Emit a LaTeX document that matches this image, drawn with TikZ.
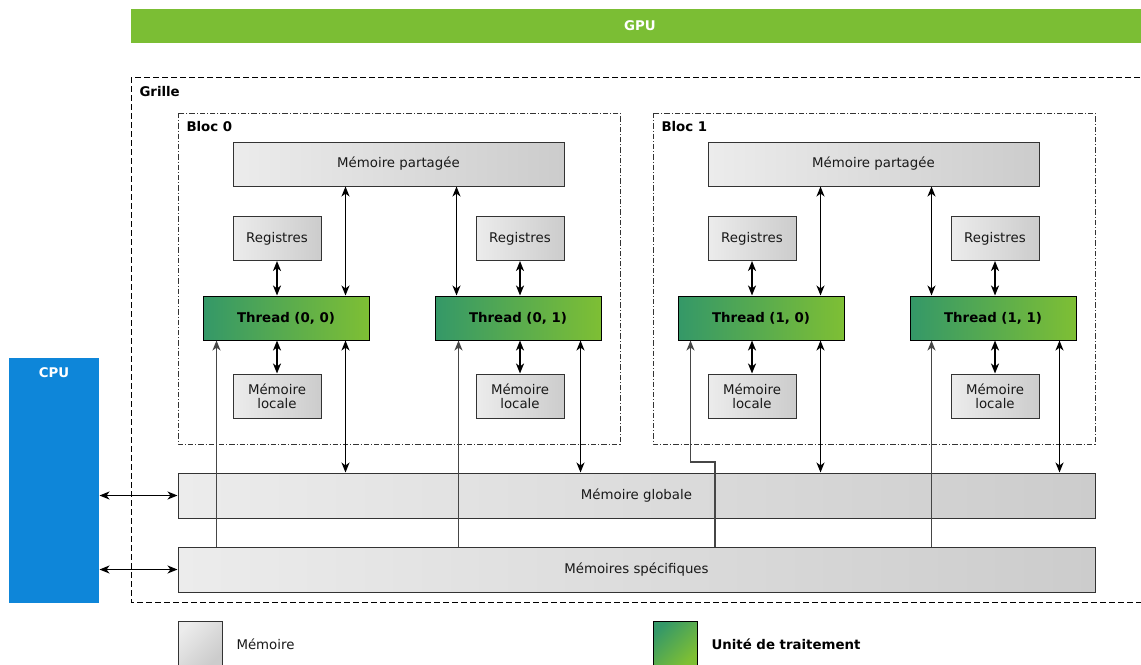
\documentclass[tikz,border=0pt]{standalone}
\usepackage{fontspec}
\setmainfont{DejaVu Sans}
\usetikzlibrary{arrows.meta}

\definecolor{gpugreen}{RGB}{123,190,52}
\definecolor{cpublue}{RGB}{14,134,217}
\definecolor{memlight}{RGB}{236,236,236}
\definecolor{memdark}{RGB}{204,204,204}
\definecolor{unitleft}{RGB}{52,152,104}
\definecolor{unitright}{RGB}{126,191,52}
\definecolor{edgegray}{RGB}{51,51,51}
\definecolor{feedgray}{RGB}{70,70,70}

\tikzset{every picture/.style={line width=0.75pt}}
\tikzset{
  txt/.style={font=\fontsize{10}{12}\selectfont, text=black!90},
  lbl/.style={font=\fontsize{10}{12}\selectfont\bfseries, inner sep=0.75pt},
  mem/.style={draw=edgegray, left color=memlight, right color=memdark, inner sep=0pt, minimum height=33pt, align=center, txt},
  unit/.style={draw=black, left color=unitleft, right color=unitright, inner sep=0pt, minimum width=124.5pt, minimum height=33pt, lbl},
  grid/.style={draw=black, dash pattern=on 4.5pt off 2.25pt},
  bloc/.style={draw=black!80, dash pattern=on 4pt off 1.5pt on 0.75pt off 1.5pt},
  tip/.tip={Stealth[length=7.5pt,width=6pt,inset=2.2pt]},
  link/.style={draw=black, line width=0.9pt, {tip}-{tip}},
  thick link/.style={link, line width=1.3pt},
  feed/.style={draw=feedgray, line width=0.9pt, -{tip}}
}

\begin{document}
\begin{tikzpicture}[x=0.75pt,y=0.75pt,yscale=-1,xscale=1]
\useasboundingbox (0,0) rectangle (1141,664);

%Shape: Rectangle GPU
\draw (640,26) node [fill=gpugreen, inner sep=0pt, minimum width=763.5pt, minimum height=25.5pt, text=white, lbl] (gpu) {GPU};
%Shape: Rectangle CPU
\draw (54,480.5) node [fill=cpublue, inner sep=0pt, minimum width=67.5pt, minimum height=183.75pt] (cpu) {};
% Text Node
\draw (54,373) node [text=white, lbl] (cputxt) {CPU};

%Shape: Rectangle Grille
\draw [grid] (131,77) rectangle (1150,602);
% Text Node
\draw (138,92) node [anchor=west, lbl] (grille) {Grille};

%Shape: Rectangle Bloc 0
\draw [bloc] (178,113) rectangle (620,444);
% Text Node
\draw (185,127) node [anchor=west, lbl] (bloc0) {Bloc 0};
%Shape: Rectangle Bloc 1
\draw [bloc] (653,113) rectangle (1095,444);
% Text Node
\draw (660,127) node [anchor=west, lbl] (bloc1) {Bloc 1};

% Bloc 0
\draw (398.5,164) node [mem, minimum width=248.25pt] (mp0) {Mémoire partagée};
\draw (277,238.5) node [mem, minimum width=66pt] (reg00) {Registres};
\draw (520,238.5) node [mem, minimum width=66pt] (reg01) {Registres};
\draw (286,318) node [unit] (t00) {Thread (0, 0)};
\draw (518,318) node [unit] (t01) {Thread (0, 1)};
\draw (277,396) node [mem, minimum width=66pt] (ml00) {Mémoire\\[-1.5pt]locale};
\draw (520,396) node [mem, minimum width=66pt] (ml01) {Mémoire\\[-1.5pt]locale};

% Bloc 1
\draw (873.5,164) node [mem, minimum width=248.25pt] (mp1) {Mémoire partagée};
\draw (752,238.5) node [mem, minimum width=66pt] (reg10) {Registres};
\draw (995,238.5) node [mem, minimum width=66pt] (reg11) {Registres};
\draw (761,318) node [unit] (t10) {Thread (1, 0)};
\draw (993,318) node [unit] (t11) {Thread (1, 1)};
\draw (752,396) node [mem, minimum width=66pt] (ml10) {Mémoire\\[-1.5pt]locale};
\draw (995,396) node [mem, minimum width=66pt] (ml11) {Mémoire\\[-1.5pt]locale};

% Memoires communes
\draw (636.5,495.5) node [mem, minimum width=687.75pt, minimum height=33.75pt] (mg) {Mémoire globale};
\draw (636.5,569.5) node [mem, minimum width=687.75pt, minimum height=33.75pt] (ms) {Mémoires spécifiques};

% Registres / memoire locale
\draw [thick link] (reg00.south) -- (reg00.south |- t00.north);
\draw [thick link] (ml00.north) -- (ml00.north |- t00.south);
\draw [thick link] (reg01.south) -- (reg01.south |- t01.north);
\draw [thick link] (ml01.north) -- (ml01.north |- t01.south);
\draw [thick link] (reg10.south) -- (reg10.south |- t10.north);
\draw [thick link] (ml10.north) -- (ml10.north |- t10.south);
\draw [thick link] (reg11.south) -- (reg11.south |- t11.north);
\draw [thick link] (ml11.north) -- (ml11.north |- t11.south);

% Memoire partagee
\draw [link] ([xshift=-18pt]t00.north east |- mp0.south) -- ([xshift=-18pt]t00.north east);
\draw [link] ([xshift=16.5pt]t01.north west |- mp0.south) -- ([xshift=16.5pt]t01.north west);
\draw [link] ([xshift=-18pt]t10.north east |- mp1.south) -- ([xshift=-18pt]t10.north east);
\draw [link] ([xshift=16.5pt]t11.north west |- mp1.south) -- ([xshift=16.5pt]t11.north west);

% Memoire globale
\draw [link] ([xshift=-18pt]t00.south east |- mg.north) -- ([xshift=-18pt]t00.south east);
\draw [link] ([xshift=-15.75pt]t01.south east |- mg.north) -- ([xshift=-15.75pt]t01.south east);
\draw [link] ([xshift=-18pt]t10.south east |- mg.north) -- ([xshift=-18pt]t10.south east);
\draw [link] ([xshift=-12.75pt]t11.south east |- mg.north) -- ([xshift=-12.75pt]t11.south east);

% Memoires specifiques
\coordinate (jog) at (715,462);
\draw [feed] ([xshift=10.5pt]t00.south west |- ms.north) -- ([xshift=10.5pt]t00.south west);
\draw [feed] ([xshift=18pt]t01.south west |- ms.north) -- ([xshift=18pt]t01.south west);
\draw [feed] (jog |- ms.north) -- (jog) -| ([xshift=9.75pt]t10.south west);
\draw [feed] ([xshift=16.5pt]t11.south west |- ms.north) -- ([xshift=16.5pt]t11.south west);

% CPU
\draw [link] (cpu.east |- mg.west) -- (mg.west);
\draw [link] (cpu.east |- ms.west) -- (ms.west);

% Legende
\draw (200,643) node [mem, minimum width=33pt, shading angle=45] (legmem) {};
\draw (235,644) node [anchor=west, txt, inner sep=0.75pt] (legmemtxt) {Mémoire};
\draw (675,643) node [unit, minimum width=33pt, shading angle=45] (legunit) {};
\draw (710,644) node [anchor=west, lbl] (legunittxt) {Unité de traitement};

\end{tikzpicture}
\end{document}
